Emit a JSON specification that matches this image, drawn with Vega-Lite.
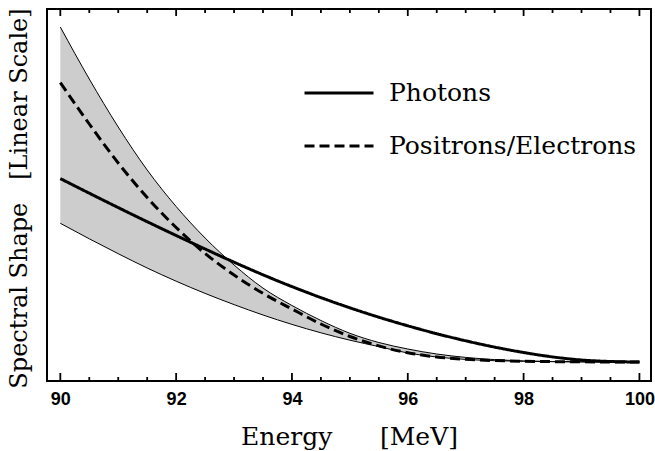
{
  "$schema": "https://vega.github.io/schema/vega-lite/v6.json",
  "width": 604,
  "height": 372,
  "autosize": {"type": "none"},
  "padding": {"left": 47, "top": 9, "right": 4, "bottom": 70},
  "background": "white",
  "config": {
    "view": {"stroke": "black", "strokeWidth": 2},
    "axis": {"grid": false, "domain": false}
  },
  "datasets": {
    "band": [
      {"E": 90, "lo": 138.7, "hi": 335},
      {"E": 90.5, "lo": 123.2, "hi": 283},
      {"E": 91, "lo": 108.3, "hi": 235},
      {"E": 91.5, "lo": 94.0, "hi": 192},
      {"E": 92, "lo": 80.8, "hi": 155.5},
      {"E": 92.5, "lo": 68.6, "hi": 124},
      {"E": 93, "lo": 57.4, "hi": 97},
      {"E": 93.5, "lo": 47.0, "hi": 73.9},
      {"E": 94, "lo": 37.6, "hi": 56.5},
      {"E": 94.5, "lo": 29.2, "hi": 41.5},
      {"E": 95, "lo": 21.8, "hi": 28.7},
      {"E": 95.5, "lo": 15.4, "hi": 19.5},
      {"E": 96, "lo": 9.0, "hi": 13},
      {"E": 96.5, "lo": 5.0, "hi": 8.0},
      {"E": 97, "lo": 2.6, "hi": 4.6},
      {"E": 97.5, "lo": 1.3, "hi": 2.4},
      {"E": 98, "lo": 0.7, "hi": 1.1},
      {"E": 98.5, "lo": 0.35, "hi": 0.45},
      {"E": 99, "lo": 0.15, "hi": 0.15},
      {"E": 99.5, "lo": 0.05, "hi": 0.05},
      {"E": 100, "lo": 0, "hi": 0}
    ],
    "curves": [
      {"series": "Photons", "E": 90, "v": 183.4},
      {"series": "Photons", "E": 90.5, "v": 168.8},
      {"series": "Photons", "E": 91, "v": 154.4},
      {"series": "Photons", "E": 91.5, "v": 140.3},
      {"series": "Photons", "E": 92, "v": 126.5},
      {"series": "Photons", "E": 92.5, "v": 113.0},
      {"series": "Photons", "E": 93, "v": 99.8},
      {"series": "Photons", "E": 93.5, "v": 87.2},
      {"series": "Photons", "E": 94, "v": 75.4},
      {"series": "Photons", "E": 94.5, "v": 64.4},
      {"series": "Photons", "E": 95, "v": 54.2},
      {"series": "Photons", "E": 95.5, "v": 44.8},
      {"series": "Photons", "E": 96, "v": 36.2},
      {"series": "Photons", "E": 96.5, "v": 28.3},
      {"series": "Photons", "E": 97, "v": 21.2},
      {"series": "Photons", "E": 97.5, "v": 14.9},
      {"series": "Photons", "E": 98, "v": 9.5},
      {"series": "Photons", "E": 98.5, "v": 5.1},
      {"series": "Photons", "E": 99, "v": 2.0},
      {"series": "Photons", "E": 99.5, "v": 0.5},
      {"series": "Photons", "E": 100, "v": 0},
      {"series": "Positrons/Electrons", "E": 90, "v": 279.4},
      {"series": "Positrons/Electrons", "E": 90.5, "v": 238},
      {"series": "Positrons/Electrons", "E": 91, "v": 199},
      {"series": "Positrons/Electrons", "E": 91.5, "v": 164.5},
      {"series": "Positrons/Electrons", "E": 92, "v": 134.5},
      {"series": "Positrons/Electrons", "E": 92.5, "v": 108.5},
      {"series": "Positrons/Electrons", "E": 93, "v": 87},
      {"series": "Positrons/Electrons", "E": 93.5, "v": 68.6},
      {"series": "Positrons/Electrons", "E": 94, "v": 53},
      {"series": "Positrons/Electrons", "E": 94.5, "v": 38},
      {"series": "Positrons/Electrons", "E": 95, "v": 25.5},
      {"series": "Positrons/Electrons", "E": 95.5, "v": 16.1},
      {"series": "Positrons/Electrons", "E": 96, "v": 9.2},
      {"series": "Positrons/Electrons", "E": 96.5, "v": 5.1},
      {"series": "Positrons/Electrons", "E": 97, "v": 2.7},
      {"series": "Positrons/Electrons", "E": 97.5, "v": 1.4},
      {"series": "Positrons/Electrons", "E": 98, "v": 0.8},
      {"series": "Positrons/Electrons", "E": 98.5, "v": 0.4},
      {"series": "Positrons/Electrons", "E": 99, "v": 0.15},
      {"series": "Positrons/Electrons", "E": 99.5, "v": 0.05},
      {"series": "Positrons/Electrons", "E": 100, "v": 0}
    ],
    "ticks": [
      {"E": 90, "kind": "major"}, {"E": 90.5, "kind": "minor"}, {"E": 91, "kind": "minor"}, {"E": 91.5, "kind": "minor"},
      {"E": 92, "kind": "major"}, {"E": 92.5, "kind": "minor"}, {"E": 93, "kind": "minor"}, {"E": 93.5, "kind": "minor"},
      {"E": 94, "kind": "major"}, {"E": 94.5, "kind": "minor"}, {"E": 95, "kind": "minor"}, {"E": 95.5, "kind": "minor"},
      {"E": 96, "kind": "major"}, {"E": 96.5, "kind": "minor"}, {"E": 97, "kind": "minor"}, {"E": 97.5, "kind": "minor"},
      {"E": 98, "kind": "major"}, {"E": 98.5, "kind": "minor"}, {"E": 99, "kind": "minor"}, {"E": 99.5, "kind": "minor"},
      {"E": 100, "kind": "major"}
    ]
  },
  "layer": [
    {
      "data": {"name": "band"},
      "mark": {"type": "area", "color": "#cdcdcd", "interpolate": "monotone"},
      "encoding": {
        "x": {
          "field": "E", "type": "quantitative",
          "scale": {"domain": [89.77, 100.2], "nice": false, "zero": false},
          "axis": {
            "orient": "bottom",
            "values": [90, 92, 94, 96, 98, 100],
            "title": "Energy\u00a0\u00a0\u00a0\u00a0\u00a0\u00a0[MeV]",
            "labelFont": "Liberation Sans", "labelFontWeight": "bold", "labelFontSize": 18,
            "labelColor": "black", "labelPadding": 9, "labelFlush": false,
            "ticks": false, "tickSize": 0,
            "titleFont": "DejaVu Serif", "titleFontSize": 25, "titleFontWeight": "normal",
            "titleColor": "black", "titleY": 63, "titleBaseline": "alphabetic"
          }
        },
        "y": {
          "field": "lo", "type": "quantitative",
          "scale": {"domain": [-19, 353], "nice": false, "zero": false},
          "axis": {
            "orient": "left",
            "title": "Spectral Shape\u00a0\u00a0\u00a0[Linear Scale]",
            "labels": false, "ticks": false,
            "titleFont": "DejaVu Serif", "titleFontSize": 24, "titleFontWeight": "normal",
            "titleColor": "black", "titleX": -21, "titleY": 189, "titleAngle": -90,
            "titleBaseline": "alphabetic", "titleAlign": "center"
          }
        },
        "y2": {"field": "hi"}
      }
    },
    {
      "data": {"name": "band"},
      "mark": {"type": "line", "color": "black", "strokeWidth": 1, "interpolate": "monotone"},
      "encoding": {
        "x": {"field": "E", "type": "quantitative", "scale": {"domain": [89.77, 100.2], "nice": false, "zero": false}, "axis": null},
        "y": {"field": "hi", "type": "quantitative", "scale": {"domain": [-19, 353], "nice": false, "zero": false}, "axis": null}
      }
    },
    {
      "data": {"name": "band"},
      "mark": {"type": "line", "color": "black", "strokeWidth": 1, "interpolate": "monotone"},
      "encoding": {
        "x": {"field": "E", "type": "quantitative", "scale": {"domain": [89.77, 100.2], "nice": false, "zero": false}, "axis": null},
        "y": {"field": "lo", "type": "quantitative", "scale": {"domain": [-19, 353], "nice": false, "zero": false}, "axis": null}
      }
    },
    {
      "data": {"name": "ticks"},
      "transform": [{"filter": "datum.kind === 'major'"}],
      "mark": {"type": "rule", "color": "black", "strokeWidth": 1.8},
      "encoding": {
        "x": {"field": "E", "type": "quantitative", "scale": {"domain": [89.77, 100.2], "nice": false, "zero": false}, "axis": null},
        "y": {"datum": -19, "type": "quantitative", "scale": {"domain": [-19, 353], "nice": false, "zero": false}, "axis": null},
        "y2": {"datum": -11}
      }
    },
    {
      "data": {"name": "ticks"},
      "transform": [{"filter": "datum.kind === 'minor'"}],
      "mark": {"type": "rule", "color": "black", "strokeWidth": 1.8},
      "encoding": {
        "x": {"field": "E", "type": "quantitative", "scale": {"domain": [89.77, 100.2], "nice": false, "zero": false}, "axis": null},
        "y": {"datum": -19, "type": "quantitative", "scale": {"domain": [-19, 353], "nice": false, "zero": false}, "axis": null},
        "y2": {"datum": -15}
      }
    },
    {
      "data": {"name": "ticks"},
      "transform": [{"filter": "datum.kind === 'major'"}],
      "mark": {"type": "rule", "color": "black", "strokeWidth": 1.8},
      "encoding": {
        "x": {"field": "E", "type": "quantitative", "scale": {"domain": [89.77, 100.2], "nice": false, "zero": false}, "axis": null},
        "y": {"datum": 353, "type": "quantitative", "scale": {"domain": [-19, 353], "nice": false, "zero": false}, "axis": null},
        "y2": {"datum": 346}
      }
    },
    {
      "data": {"name": "ticks"},
      "transform": [{"filter": "datum.kind === 'minor'"}],
      "mark": {"type": "rule", "color": "black", "strokeWidth": 1.8},
      "encoding": {
        "x": {"field": "E", "type": "quantitative", "scale": {"domain": [89.77, 100.2], "nice": false, "zero": false}, "axis": null},
        "y": {"datum": 353, "type": "quantitative", "scale": {"domain": [-19, 353], "nice": false, "zero": false}, "axis": null},
        "y2": {"datum": 349}
      }
    },
    {
      "data": {"name": "curves"},
      "mark": {"type": "line", "color": "black", "strokeWidth": 3, "interpolate": "monotone"},
      "encoding": {
        "x": {"field": "E", "type": "quantitative", "scale": {"domain": [89.77, 100.2], "nice": false, "zero": false}, "axis": null},
        "y": {"field": "v", "type": "quantitative", "scale": {"domain": [-19, 353], "nice": false, "zero": false}, "axis": null},
        "strokeDash": {
          "field": "series", "type": "nominal",
          "scale": {"domain": ["Photons", "Positrons/Electrons"], "range": [[1, 0], [10, 5]]},
          "legend": {
            "title": null, "orient": "none", "legendX": 256, "legendY": 48,
            "symbolType": "stroke", "symbolSize": 4761, "symbolStrokeWidth": 3,
            "symbolStrokeColor": "black",
            "labelFont": "DejaVu Serif", "labelFontSize": 25, "labelColor": "black",
            "labelOffset": 14, "rowPadding": 4, "padding": 0, "labelLimit": 400
          }
        }
      }
    }
  ],
  "resolve": {"axis": {"x": "independent", "y": "independent"}}
}
